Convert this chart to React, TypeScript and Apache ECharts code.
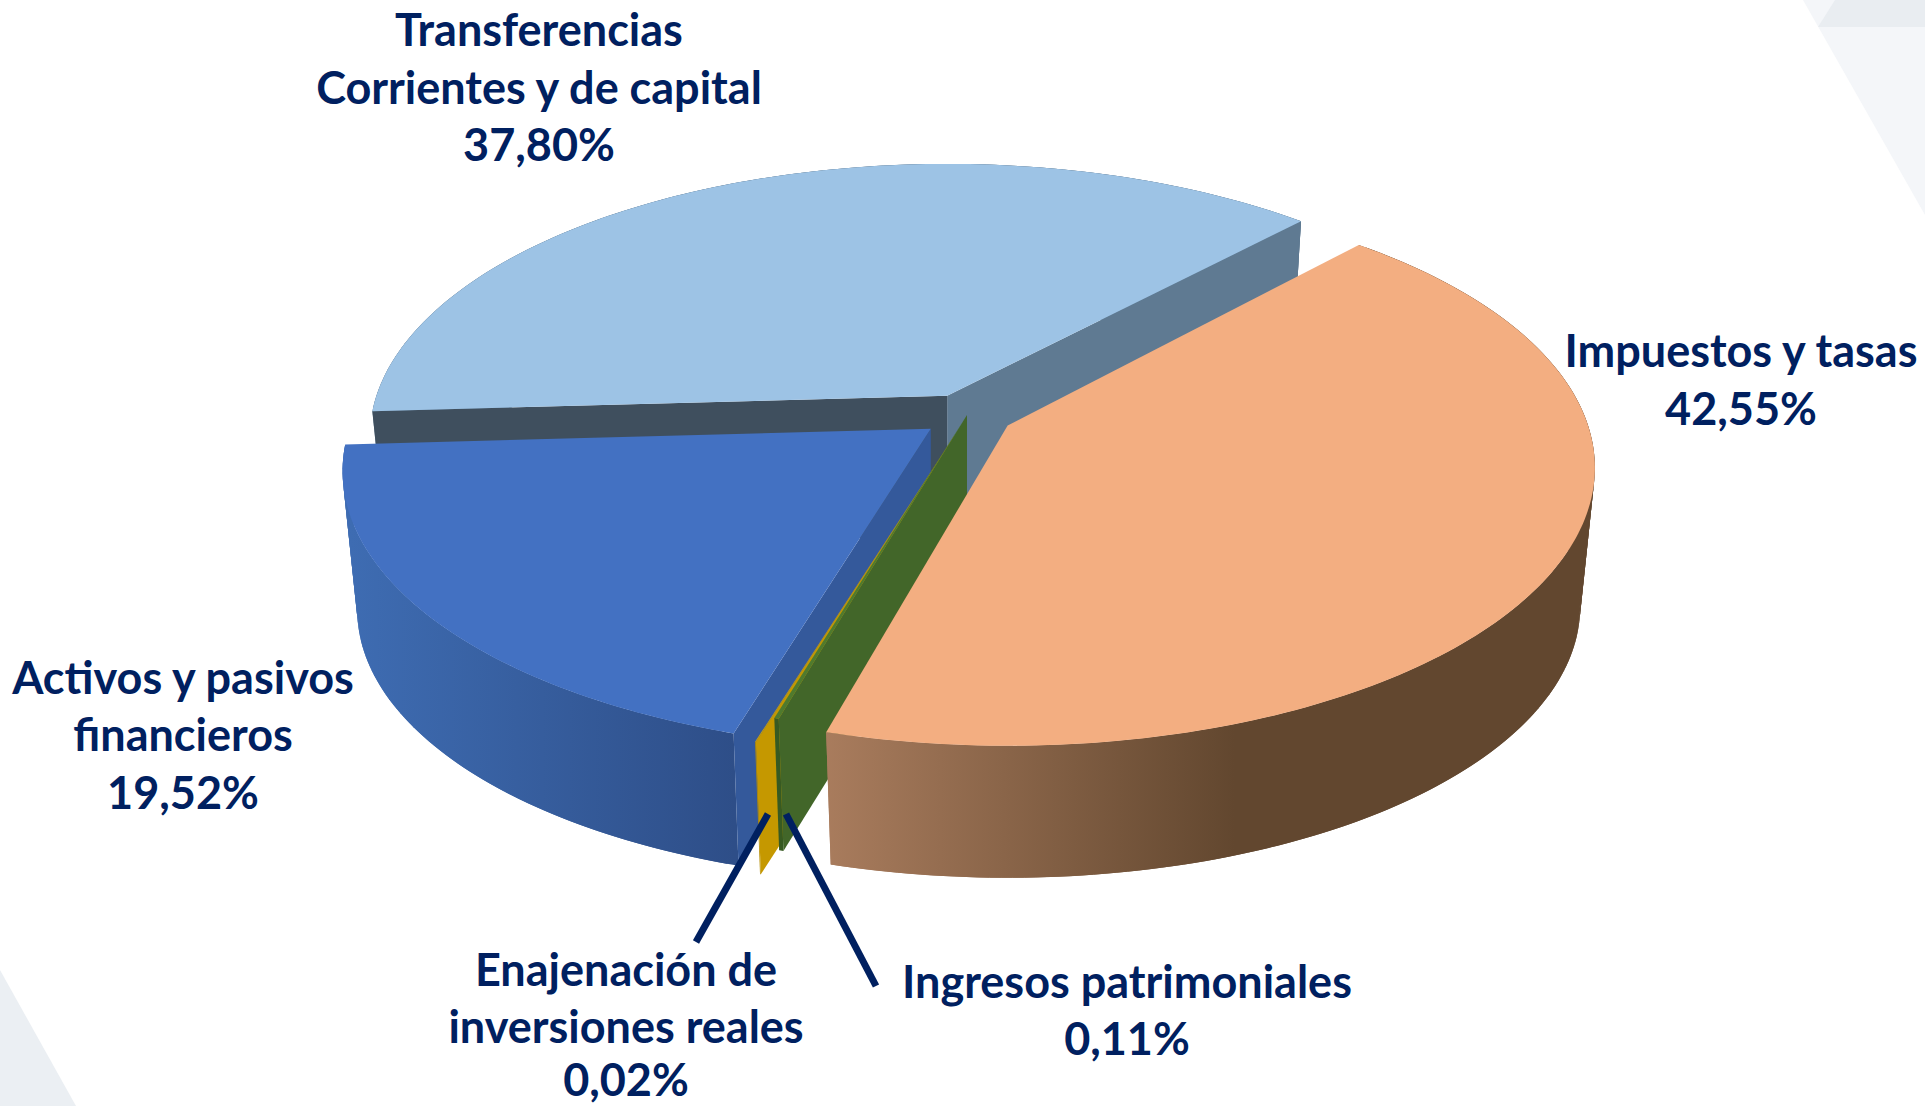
import React, { useEffect, useRef } from "react";
import * as echarts from "echarts";

// Slices in clockwise order, starting at the top-right cut
const categories = ["Impuestos y tasas", "Ingresos patrimoniales", "Enajenación de inversiones reales", "Activos y pasivos financieros", "Transferencias Corrientes y de capital"];
const shares = [42.55, 0.11, 0.02, 19.52, 37.8];
const labelLines = [
  ["Impuestos y tasas"],
  ["Ingresos patrimoniales"],
  ["Enajenación de", "inversiones reales"],
  ["Activos y pasivos", "financieros"],
  ["Transferencias", "Corrientes y de capital"],
];

// Layout / styling
const W = 1925, H = 1106;
const CX = 967, CY = 415, RX = 577, RY = 270, PERSP = 0.152;
const DEPTH = 140, SHRINK = 0.975, START = 42.3, EXPLODE = 0.08;
const NAVY = "#002060";
const LINE = 57.6;
const labelTop = [[1741, 350], [1127, 980.5], [626, 968.5], [183, 676.5], [539, 29]];
const explodes = [EXPLODE, 0, EXPLODE, EXPLODE, EXPLODE];
const startNudge = [0, 0.7, 1.0, 0.9, 0.5];
const endNudge = [0, 0.7, 1.0, 0.5, 1.2];
const zOrder = [50, 40, 30, 20, 10];
const lg = (x0: number, x1: number, c0: string, c1: string) =>
  new echarts.graphic.LinearGradient(x0, 0, x1, 0, [{ offset: 0, color: c0 }, { offset: 1, color: c1 }], true);
const topFill = ["#f3ae81", "#4f7a2e", "#d6a400", "#4371c2", "#9dc3e5"];
const rimFill = [lg(825, 1235, "#a97c5d", "#62472f"), "#375a22", "#b58c00", lg(350, 735, "#3e6cb2", "#2e4e88"), "#5f7a92"];
const startWall = ["#c98d63", "#426629", "#c59800", "#34599b", "#3f4f5e"];
const endWall = ["#5f7a92"];

const rad = (d: number) => (d * Math.PI) / 180;
const proj = (u: number, v: number) => {
  const w = 1 + PERSP * v;
  return [(RX * u) / w, (-RY * v) / w];
};

function sliceShapes(i: number) {
  const total = shares.reduce((a, b) => a + b, 0);
  let a0 = START;
  for (let j = 0; j < i; j++) a0 += (shares[j] / total) * 360;
  const a1 = a0 + (shares[i] / total) * 360;
  const mid = rad((a0 + a1) / 2);
  const ex = explodes[i];
  const eu = ex * Math.sin(mid), ev = ex * Math.cos(mid);
  const off = proj(eu, ev);
  const ax = CX + off[0], ay = CY + off[1];
  const scale = 1 / (1 + PERSP * ev);
  const from = a0 + startNudge[i];
  const to = a1 + endNudge[i];
  const steps = Math.max(1, Math.ceil(to - from));
  const rimTop: number[][] = [];
  for (let s = 0; s <= steps; s++) {
    const t = rad(from + ((to - from) * s) / steps);
    const p = proj(Math.sin(t), Math.cos(t));
    rimTop.push([ax + p[0] * scale, ay + p[1] * scale]);
  }
  const low = (p: number[]) => [ax + SHRINK * (p[0] - ax), ay + DEPTH + SHRINK * (p[1] - ay)];
  const rimLow = rimTop.map(low);
  const apex = [ax, ay];
  const apexLow = low(apex);
  return { rimTop, rimLow, apex, apexLow };
}

const renderSlice = (params: any, api: any) => {
  const i = params.dataIndex;
  api.value(0);
  const { rimTop, rimLow, apex, apexLow } = sliceShapes(i);
  const z = zOrder[i];
  const poly = (points: number[][], fill: any, z2: number) => ({
    type: "polygon",
    z2,
    silent: true,
    shape: { points },
    style: { fill, stroke: null },
  });
  const children: any[] = [];
  const last = rimTop.length - 1;
  // the outer wall: overlapping quads, so that the outline follows the side of the cylinder
  for (let s = 0; s < last; s++) {
    const e = Math.min(s + 2, last);
    children.push(poly([rimTop[s], rimTop[e], rimLow[e], rimLow[s]], rimFill[i], z));
  }
  // the cut faces that turn towards the viewer
  if (i === 4) {
    children.push(poly([apex, rimTop[last], rimLow[last], apexLow], endWall[0], z + 1));
  }
  if (i !== 0) {
    children.push(poly([apex, rimTop[0], rimLow[0], apexLow], startWall[i], z + 1));
  }
  children.push(poly([apex, ...rimTop], topFill[i], z + 2));
  return { type: "group", children };
};

const pct = (v: number) => v.toFixed(2).replace(".", ",") + "%";

export default function App() {
  const ref = useRef<HTMLDivElement>(null);
  useEffect(() => {
    document.documentElement.style.margin = "0";
    document.body.style.margin = "0";
    document.body.style.overflow = "hidden";
    const chart = echarts.init(ref.current!, undefined, { renderer: "svg" });
    const deco = (points: number[][], fill: any) => ({
      type: "polygon",
      silent: true,
      z: 0,
      shape: { points },
      style: { fill },
    });
    const leader = (a: number[], b: number[]) => ({
      type: "line",
      silent: true,
      z: 100,
      shape: { x1: a[0], y1: a[1], x2: b[0], y2: b[1] },
      style: { stroke: NAVY, lineWidth: 7 },
    });
    const texts: any[] = [];
    categories.forEach((_, i) => {
      [...labelLines[i], pct(shares[i])].forEach((line, n) => {
        texts.push({
          type: "text",
          silent: true,
          z: 100,
          x: labelTop[i][0],
          y: Math.min(labelTop[i][1] + n * LINE, 1079),
          style: {
            text: line,
            fill: NAVY,
            font: "bold 45px Lato",
            lineHeight: 40,
            align: "center",
            verticalAlign: "middle",
          },
        });
      });
    });
    chart.setOption({
      animation: false,
      backgroundColor: "#ffffff",
      graphic: [
        deco([[1803, 0], [1925, 0], [1925, 215]], "#f4f6f9"),
        deco([[1818, 27], [1835, 0], [1925, 0], [1925, 27]], "#e9edf1"),
        deco([[0, 970], [76, 1106], [0, 1106]], "#ebeff3"),
        leader([768, 814], [696, 942]),
        leader([786, 814], [876, 986]),
        ...texts,
      ],
      series: [
        {
          type: "custom",
          coordinateSystem: "none",
          silent: true,
          renderItem: renderSlice,
          data: categories.map((name, i) => ({ name, value: [shares[i]] })),
        },
      ],
    });
    return () => chart.dispose();
  }, []);
  return <div ref={ref} style={{ width: W, height: H }} />;
}
